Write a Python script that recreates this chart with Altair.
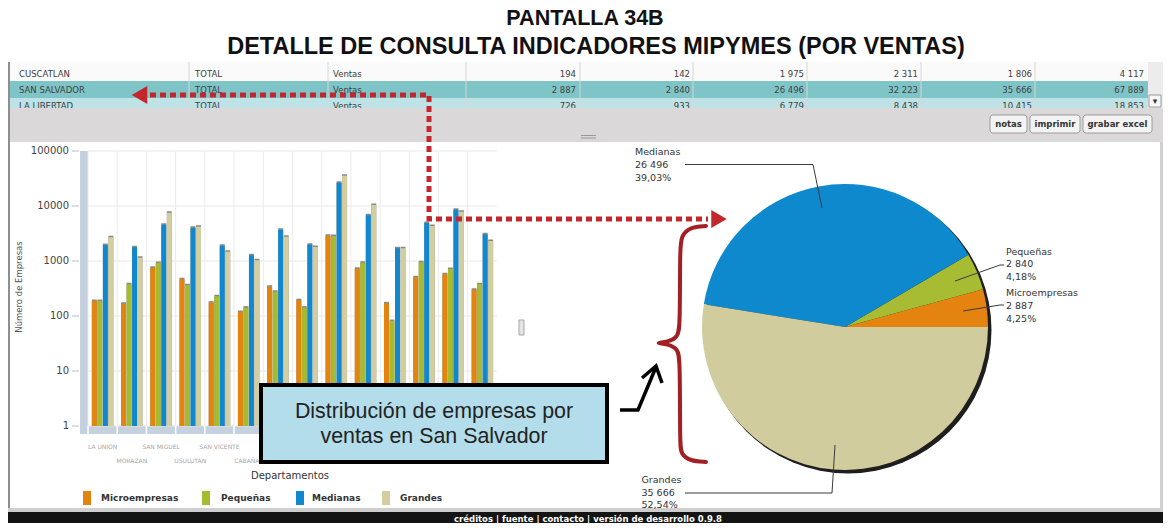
import math
import altair as alt
import pandas as pd

# ---------------- data ----------------
departamentos = ["LA UNION", "MORAZAN", "SAN MIGUEL", "USULUTAN", "SAN VICENTE", "CABAÑAS", "LA PAZ",
                 "CUSCATLAN", "SAN SALVADOR", "LA LIBERTAD", "CHALATENANGO", "SONSONATE", "SANTA ANA",
                 "AHUACHAPAN"]
microempresas = [187, 167, 755, 465, 175, 118, 341, 194, 2887, 726, 170, 505, 573, 301]
pequenas = [187, 377, 920, 361, 228, 142, 277, 142, 2840, 933, 81, 946, 715, 377]
medianas = [1950, 1770, 4570, 4030, 1900, 1270, 3710, 1975, 26496, 6779, 1700, 4900, 8570, 3060]
grandes = [2700, 1150, 7550, 4200, 1480, 1030, 2770, 1806, 35666, 10415, 1700, 4330, 7880, 2310]

series = ["Microempresas", "Pequeñas", "Medianas", "Grandes"]
y_ticks = [1, 10, 100, 1000, 10000, 100000]
y_tick_labels = ["1", "10", "100", "1000", "10000", "100000"]

tabla_departamentos = ["CUSCATLAN", "SAN SALVADOR", "LA LIBERTAD"]
tabla_tipo = ["TOTAL", "TOTAL", "TOTAL"]
tabla_variable = ["Ventas", "Ventas", "Ventas"]
tabla_micro = [194, 2887, 726]
tabla_pequenas = [142, 2840, 933]
tabla_medianas = [1975, 26496, 6779]
tabla_mipymes = [2311, 32223, 8438]
tabla_grandes = [1806, 35666, 10415]
tabla_total = [4117, 67889, 18853]

pie_series = ["Microempresas", "Pequeñas", "Medianas", "Grandes"]
pie_values = [2887, 2840, 26496, 35666]

title_lines = ["PANTALLA 34B", "DETALLE DE CONSULTA INDICADORES MIPYMES (POR VENTAS)"]
botones = ["notas", "imprimir", "grabar excel"]
callout_lines = ["Distribución de empresas por", "ventas en San Salvador"]
footer_text = "créditos  |  fuente  |  contacto  |  versión de desarrollo 0.9.8"
y_title = "Número de Empresas"
x_title = "Departamentos"

# ---------------- styles / layout ----------------
bar_colors = ["#E3840F", "#A6BA30", "#1088D0", "#D3CE9F"]
pie_colors = ["#E4830F", "#A8BC33", "#0E89CE", "#D1CC9D"]
OX, OY = 8, 8
W, H = 1155, 515
FONT = "DejaVu Sans"
ARIAL = "Liberation Sans"


def fmt(n):
    return f"{n:,}".replace(",", " ")


def rect_layer(rows, **mk):
    df = pd.DataFrame(rows, columns=["x", "y", "x2", "y2", "fill"])
    for c in ["x", "x2"]:
        df[c] = df[c] - OX
    for c in ["y", "y2"]:
        df[c] = df[c] - OY
    return alt.Chart(df).mark_rect(**mk).encode(
        x=alt.X("x:Q", scale=None, axis=None), x2="x2:Q",
        y=alt.Y("y:Q", scale=None, axis=None), y2="y2:Q",
        fill=alt.Fill("fill:N", scale=None))


def text_layer(rows, **mk):
    df = pd.DataFrame(rows, columns=["x", "y", "t"])
    df["x"] = df["x"] - OX
    df["y"] = df["y"] - OY
    return alt.Chart(df).mark_text(**mk).encode(
        x=alt.X("x:Q", scale=None, axis=None),
        y=alt.Y("y:Q", scale=None, axis=None),
        text="t:N")


def line_layer(paths, **mk):
    rows = []
    for i, pts in enumerate(paths):
        for j, (x, y) in enumerate(pts):
            rows.append({"id": i, "o": j, "x": x - OX, "y": y - OY})
    return alt.Chart(pd.DataFrame(rows)).mark_line(**mk).encode(
        x=alt.X("x:Q", scale=None, axis=None),
        y=alt.Y("y:Q", scale=None, axis=None),
        order="o:Q", detail="id:N")


layers = []

# ---- page background pieces ----
layers.append(rect_layer([
    (8, 62, 1148, 81, "#FAFAFA"),
    (8, 81, 1148, 98, "#7FC5C8"),
    (8, 98, 1148, 108, "#BEE2E5"),
    (1148, 62, 1163, 108, "#ECECEC"),
    (8, 142, 1163, 508, "#FFFFFF"),
]))

# table column separators
col_lines = [189, 328, 466, 580, 693, 807, 921, 1035]
layers.append(line_layer([[(c, 62), (c, 108)] for c in col_lines], color="#D6D6D6", strokeWidth=1))

# table text
row_y = [74, 90, 106]
num_x = [576, 690, 804, 918, 1032, 1144]
left_rows, num_rows = [], []
for i in range(3):
    left_rows += [(19, row_y[i], tabla_departamentos[i]), (195, row_y[i], tabla_tipo[i]),
                  (333, row_y[i], tabla_variable[i])]
    vals = [tabla_micro[i], tabla_pequenas[i], tabla_medianas[i], tabla_mipymes[i], tabla_grandes[i],
            tabla_total[i]]
    num_rows += [(num_x[k], row_y[i], fmt(v)) for k, v in enumerate(vals)]
layers.append(text_layer(left_rows, align="left", baseline="middle", font=FONT, fontSize=8.5, color="#404040"))
layers.append(text_layer(num_rows, align="right", baseline="middle", font=FONT, fontSize=8.5, color="#404040"))

# gray toolbar, borders, footer
layers.append(rect_layer([
    (8, 108, 1163, 142, "#DAD8D8"),
    (8, 62, 10, 508, "#8E8E8E"),
    (1160, 142, 1163, 508, "#D0D0D0"),
    (8, 508, 1163, 512, "#CFCFCF"),
    (8, 512, 1163, 531, "#141414"),
]))
layers.append(rect_layer([(1149, 95, 1161, 107, "#F7F7F7")], stroke="#9A9A9A", strokeWidth=1))
layers.append(text_layer([(1155, 101, "▾")], align="center", baseline="middle", font=FONT, fontSize=9,
                         color="#333"))

# buttons
btn_box = [(990, 1027), (1030, 1080), (1083, 1152)]
layers.append(rect_layer([(a, 115, b, 133, "#F3F3F3") for a, b in btn_box], stroke="#9C9C9C",
                         strokeWidth=1, cornerRadius=3))
layers.append(text_layer([((a + b) / 2, 124, t) for (a, b), t in zip(btn_box, botones)],
                         align="center", baseline="middle", font=FONT, fontSize=8.5, fontWeight="bold",
                         color="#333"))
# splitter handle
layers.append(line_layer([[(581, 135.5), (596, 135.5)], [(581, 138), (596, 138)]], color="#9A9A9A",
                         strokeWidth=1))
layers.append(rect_layer([(519, 320, 524, 335, "#E4E4E4")], stroke="#A8A8A8", strokeWidth=1))

# title
layers.append(text_layer([(585, 19, title_lines[0])], align="center",
                         baseline="middle", font=ARIAL, fontSize=21.5, fontWeight="bold", color="#111"))
layers.append(text_layer([(596, 47, title_lines[1])], align="center",
                         baseline="middle", font=ARIAL, fontSize=23.5, fontWeight="bold", color="#111"))

# ---- bar chart ----
layers.append(rect_layer([
    (80, 151, 88, 434, "#C6D1E0"),
    (80, 426, 497, 434, "#C6D1E0"),
]))

bar_rows = []
for i, d in enumerate(departamentos):
    for s, vals in zip(series, [microempresas, pequenas, medianas, grandes]):
        bar_rows.append({"dept": d, "serie": s, "value": vals[i], "base": 1})
bar_df = pd.DataFrame(bar_rows)
tick_df = pd.DataFrame({"value": y_ticks, "label": y_tick_labels})
dept_df = pd.DataFrame({"dept": departamentos, "idx": list(range(len(departamentos)))})

x_scale = alt.Scale(domain=departamentos, range=[88 - OX, 497 - OX], paddingInner=0, paddingOuter=0)
y_scale = alt.Scale(type="log", domain=[1, 100000], range=[426 - OY, 151 - OY], nice=False)
xo_scale = alt.Scale(domain=series, paddingInner=0.1, paddingOuter=0.7)

hgrid = alt.Chart(tick_df).mark_rule(color="#E8E8E8").encode(
    y=alt.Y("value:Q", scale=y_scale, axis=None), x=alt.value(88 - OX), x2=alt.value(497 - OX))
tickmarks = alt.Chart(tick_df).mark_rule(color="#BDBDBD").encode(
    y=alt.Y("value:Q", scale=y_scale, axis=None), x=alt.value(72 - OX), x2=alt.value(79 - OX))
ticklabels = alt.Chart(tick_df).mark_text(align="right", baseline="middle", font=FONT, fontSize=10,
                                          color="#444").encode(
    y=alt.Y("value:Q", scale=y_scale, axis=None), x=alt.value(69 - OX), text="label:N")
vgrid = alt.Chart(dept_df).mark_rule(color="#EBEBEB").encode(
    x=alt.X("dept:N", scale=x_scale, axis=None, bandPosition=0),
    y=alt.value(151 - OY), y2=alt.value(426 - OY))
floor_sep = alt.Chart(dept_df).mark_rule(color="#FFFFFF", strokeWidth=1.5).encode(
    x=alt.X("dept:N", scale=x_scale, axis=None, bandPosition=0),
    y=alt.value(426 - OY), y2=alt.value(434 - OY))
shadow = alt.Chart(bar_df).mark_bar(color="#8A8A8A", xOffset=1.5, yOffset=-1.5).encode(
    x=alt.X("dept:N", scale=x_scale, axis=None),
    xOffset=alt.XOffset("serie:N", scale=xo_scale),
    y=alt.Y("value:Q", scale=y_scale, axis=None), y2="base:Q")
bars = alt.Chart(bar_df).mark_bar().encode(
    x=alt.X("dept:N", scale=x_scale, axis=None),
    xOffset=alt.XOffset("serie:N", scale=xo_scale),
    y=alt.Y("value:Q", scale=y_scale, axis=None), y2="base:Q",
    color=alt.Color("serie:N", scale=alt.Scale(domain=series, range=bar_colors), legend=None))
xlab_top = alt.Chart(dept_df).transform_filter("datum.idx % 2 == 0").mark_text(
    font=FONT, fontSize=6, color="#A6A6A6", baseline="middle").encode(
    x=alt.X("dept:N", scale=x_scale, axis=None), y=alt.value(447 - OY), text="dept:N")
xlab_bot = alt.Chart(dept_df).transform_filter("datum.idx % 2 == 1").mark_text(
    font=FONT, fontSize=6, color="#A6A6A6", baseline="middle").encode(
    x=alt.X("dept:N", scale=x_scale, axis=None), y=alt.value(461 - OY), text="dept:N")
layers.append(alt.layer(hgrid, vgrid, floor_sep, tickmarks, ticklabels, shadow, bars, xlab_top, xlab_bot))

# axis titles
layers.append(text_layer([(19, 287, y_title)], angle=270, align="center", baseline="middle", font=FONT,
                         fontSize=8.5, color="#555"))
layers.append(text_layer([(290, 476, x_title)], align="center", baseline="middle", font=FONT,
                         fontSize=10, color="#333"))

# legend
leg_sq_x = [83, 202, 296, 382]
leg_tx_x = [101, 221, 312, 400]
leg_df = pd.DataFrame({"serie": series, "x": [v - OX for v in leg_sq_x],
                       "x2": [v + 8 - OX for v in leg_sq_x], "tx": [v - OX for v in leg_tx_x]})
layers.append(alt.Chart(leg_df).mark_rect().encode(
    x=alt.X("x:Q", scale=None, axis=None), x2="x2:Q",
    y=alt.value(491 - OY), y2=alt.value(505 - OY),
    color=alt.Color("serie:N", scale=alt.Scale(domain=series, range=bar_colors), legend=None)))
layers.append(alt.Chart(leg_df).mark_text(align="left", baseline="middle", font=FONT, fontSize=9,
                                          fontWeight="bold", color="#333").encode(
    x=alt.X("tx:Q", scale=None, axis=None), y=alt.value(498 - OY), text="serie:N"))

# ---- pie chart ----
CX, CY, R = 845, 327, 143
layers.append(alt.Chart(pd.DataFrame({"a": [1]})).mark_arc(
    color="#1E1E1E", opacity=1, radius=R + 0.5, theta=0, theta2=2 * math.pi).encode(
    x=alt.value(CX + 3 - OX), y=alt.value(CY + 3 - OY)))
pie_order = {"Grandes": 0, "Medianas": 1, "Pequeñas": 2, "Microempresas": 3}
pie_df = pd.DataFrame({"serie": pie_series, "value": pie_values})
pie_df["ord"] = pie_df["serie"].map(pie_order)
layers.append(alt.Chart(pie_df).mark_arc(radius=R).encode(
    theta=alt.Theta("value:Q", stack=True,
                    scale=alt.Scale(range=[math.pi / 2, math.pi / 2 + 2 * math.pi])),
    color=alt.Color("serie:N", scale=alt.Scale(domain=series, range=pie_colors), legend=None),
    order=alt.Order("ord:Q"),
    x=alt.value(CX - OX), y=alt.value(CY - OY)))

# pie leader lines
layers.append(line_layer([
    [(685, 164.5), (813, 164.5), (822, 208)],
    [(955, 281), (1000, 265), (1004, 265)],
    [(963, 311), (1000, 305), (1004, 305)],
    [(685, 493), (832, 493), (835, 445)],
], color="#3A3A3A", strokeWidth=1))

# pie labels
total = sum(pie_values)
pie_label_pos = {"Medianas": (635, 152.3), "Pequeñas": (1006, 251.7), "Microempresas": (1006, 293.3),
                 "Grandes": (641.5, 480)}
pl_rows = []
for s, v in zip(pie_series, pie_values):
    x0, y0 = pie_label_pos[s]
    pct = f"{v / total * 100:.2f}".replace(".", ",") + "%"
    pl_rows += [(x0, y0, s), (x0, y0 + 12.7, fmt(v)), (x0, y0 + 25.4, pct)]
layers.append(text_layer(pl_rows, align="left", baseline="middle", font=FONT, fontSize=9.5, color="#333"))

# footer
layers.append(text_layer([(588, 519, footer_text)], align="center", baseline="middle", font=FONT,
                         fontSize=8.5, fontWeight="bold", color="#FFFFFF"))

# ---- annotations ----
RED = "#C1272D"
layers.append(line_layer([
    [(150, 95), (429, 95), (429, 219), (708, 219)],
], color=RED, strokeWidth=5, strokeDash=[6, 4], strokeCap="butt"))
arrow_df = pd.DataFrame({"x": [139.5 - OX, 719 - OX], "y": [95 - OY, 219 - OY],
                         "shape": ["triangle-left", "triangle-right"]})
layers.append(alt.Chart(arrow_df).mark_point(filled=True, color=RED, opacity=1, size=320).encode(
    x=alt.X("x:Q", scale=None, axis=None), y=alt.Y("y:Q", scale=None, axis=None),
    shape=alt.Shape("shape:N", scale=None)))

# brace
layers.append(line_layer([[
    (706, 226), (690, 227), (681, 236), (680, 250), (680, 326), (678, 337), (668, 342), (654, 343),
    (668, 344), (678, 349), (680, 360), (680, 445), (681, 454), (690, 461), (706, 462)
]], color="#A21F24", strokeWidth=4, interpolate="basis", strokeCap="round"))

# black arrow
layers.append(line_layer([
    [(620, 410), (638, 410), (656, 367)],
    [(642, 378), (656, 366), (662, 383)],
], color="#000000", strokeWidth=3.5, strokeJoin="miter"))

# callout box
layers.append(rect_layer([(261, 385, 607, 462, "#B3DDEA")], stroke="#000000", strokeWidth=4))
layers.append(text_layer([(434, 412, callout_lines[0]), (434, 437, callout_lines[1])], align="center",
                         baseline="middle", font=ARIAL, fontSize=21.4, color="#222"))

chart = alt.layer(*layers).resolve_scale(
    x="independent", y="independent", color="independent", theta="independent"
).properties(
    width=W, height=H, autosize=alt.AutoSizeParams(type="none"), padding=0
).configure_view(stroke=None)

chart.save("out.html", embed_options={"renderer": "svg", "actions": False})
